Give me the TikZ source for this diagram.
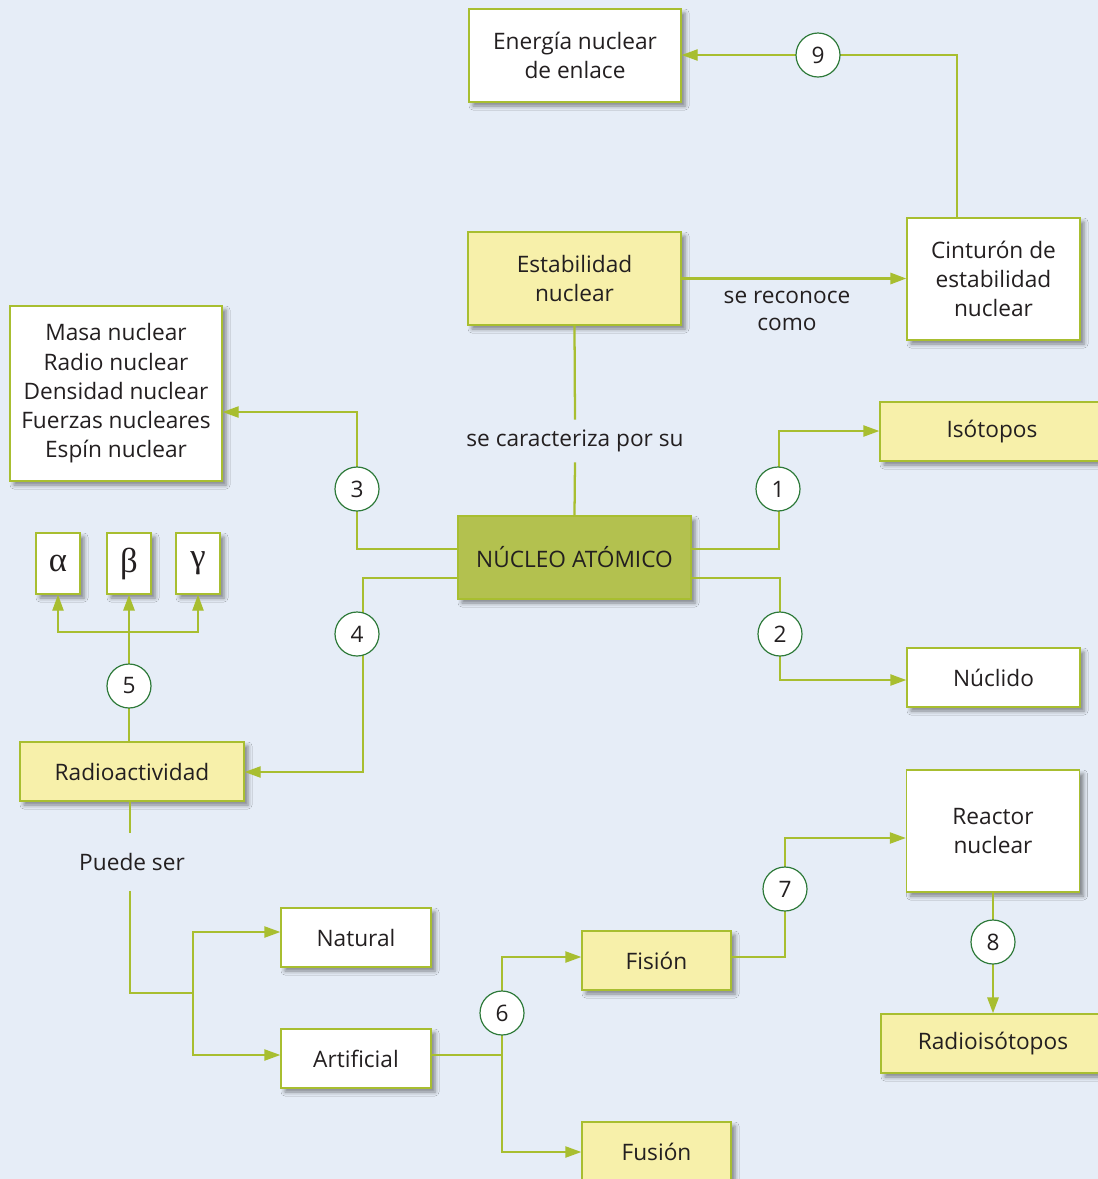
\documentclass[tikz,border=0pt]{standalone}
\usepackage{fontspec}
\setmainfont{Open Sans}
\newfontfamily\greekfont{Liberation Serif}
\usetikzlibrary{arrows.meta,shadows.blur}

\definecolor{bgblue}{HTML}{E6EDF7}
\definecolor{edge}{HTML}{A8BE30}
\definecolor{paleyellow}{HTML}{F7F0AA}
\definecolor{olive}{HTML}{B3C14F}
\definecolor{ringgreen}{HTML}{2E7A3A}
\definecolor{ink}{HTML}{231F20}

\def\pu{0.75pt}

\tikzset{
  box/.style={draw=edge, line width=1.1pt, align=center, inner sep=0pt,
    text=ink, font=\fontsize{17}{21.9}\selectfont,
    blur shadow={shadow xshift=3pt, shadow yshift=-3pt, shadow blur radius=3pt, shadow opacity=45}},
  wbox/.style={box, fill=white},
  ybox/.style={box, fill=paleyellow},
  gbox/.style={box, fill=olive},
  gkbox/.style={box, fill=white, font=\greekfont\fontsize{26}{27}\selectfont},
  num/.style={circle, draw=ringgreen, fill=white, line width=0.9pt,
    minimum size=33pt, inner sep=0pt, text=ink, font=\fontsize{17}{20}\selectfont},
  lbl/.style={fill=bgblue, text=ink, align=center, inner sep=0pt,
    font=\fontsize{17}{20}\selectfont},
  link/.style={draw=edge, line width=1.1pt, -{Triangle[length=12pt,width=8.5pt]}},
  plain/.style={draw=edge, line width=1.1pt},
  heavy/.style={line width=1.7pt},
}

\begin{document}
\begin{tikzpicture}[x=0.75pt,y=-0.75pt]
\useasboundingbox (0,0) rectangle (1098,1179);
\clip (0,0) rectangle (1098,1179);
\fill[bgblue] (0,0) rectangle (1098,1179);

% boxes
\node[wbox, minimum width=212*\pu, minimum height=93*\pu] (energia) at (575,55.5) {Energía nuclear\\de enlace};
\node[ybox, minimum width=213*\pu, minimum height=93*\pu] (estab) at (574.5,278.5) {Estabilidad\\nuclear};
\node[wbox, minimum width=173*\pu, minimum height=122*\pu] (cintu) at (993.5,279) {Cinturón de\\estabilidad\\nuclear};
\node[wbox, minimum width=212*\pu, minimum height=175*\pu] (masa) at (116,393.5) {Masa nuclear\\Radio nuclear\\Densidad nuclear\\Fuerzas nucleares\\Espín nuclear};
\node[ybox, minimum width=224*\pu, minimum height=59*\pu] (isot) at (992,431.5) {Isótopos};
\node[gbox, minimum width=233*\pu, minimum height=83*\pu] (nucleo) at (574.5,557.5) {NÚCLEO ATÓMICO};
\node[wbox, minimum width=173*\pu, minimum height=59*\pu] (nuclido) at (993.5,677.5) {Núclido};
\node[gkbox, minimum width=44*\pu, minimum height=61*\pu] (alpha) at (58,563.5) {α};
\node[gkbox, minimum width=44*\pu, minimum height=61*\pu] (beta) at (129,563.5) {β};
\node[gkbox, minimum width=44*\pu, minimum height=61*\pu] (gamma) at (198,563.5) {γ};
\node[ybox, minimum width=224*\pu, minimum height=59*\pu] (radio) at (132,771.5) {Radioactividad};
\node[wbox, minimum width=173*\pu, minimum height=122*\pu] (reactor) at (993,831) {Reactor\\nuclear};
\node[wbox, minimum width=150*\pu, minimum height=59*\pu] (natural) at (356,937.5) {Natural};
\node[ybox, minimum width=149*\pu, minimum height=59*\pu] (fision) at (656.5,960.5) {Fisión};
\node[wbox, minimum width=150*\pu, minimum height=59*\pu] (artificial) at (356,1058.5) {Artificial};
\node[ybox, minimum width=224*\pu, minimum height=59*\pu] (radioiso) at (993,1043.5) {Radioisótopos};
\node[ybox, minimum width=149*\pu, minimum height=59*\pu] (fusion) at (656.5,1151.5) {Fusión};

% link labels
\node[lbl, minimum height=42*\pu] (carac) at (575,441) {se caracteriza por su};
\node[lbl, minimum height=57*\pu] (puede) at (132,862) {Puede ser};
\node[text=ink, align=center, font=\fontsize{17}{20}\selectfont] (recon) at (787,311) {se reconoce\\como};

% bend points
\coordinate (t9) at (957,55);
\coordinate (j3) at (357,549);
\coordinate (t3) at (357,412);
\coordinate (j4) at (363,578);
\coordinate (t4) at (363,772);
\coordinate (j1) at (779,549);
\coordinate (t1) at (779,431);
\coordinate (j2) at (780,578);
\coordinate (t2) at (780,680);
\coordinate (j5) at (129,632);
\coordinate (pa) at (130,993);
\coordinate (pb) at (193,993);
\coordinate (pn) at (193,932);
\coordinate (pr) at (193,1055);
\coordinate (k6) at (502,1055);
\coordinate (f1) at (502,957);
\coordinate (f2) at (502,1152);
\coordinate (k7) at (785,957);
\coordinate (t7) at (785,838);

% connectors
\draw[link] (cintu.north -| t9) -- (t9) -- (energia.east |- t9);
\draw[link, heavy] (estab.east) -- (estab.east -| cintu.west);
\draw[plain, heavy] (estab.south) -- (carac.north);
\draw[plain, heavy] (carac.south) -- (nucleo.north);
\draw[link] (nucleo.west |- j3) -- (j3) -- (t3) -- (masa.east |- t3);
\draw[link] (nucleo.west |- j4) -- (j4) -- (t4) -- (radio.east |- t4);
\draw[link] (nucleo.east |- j1) -- (j1) -- (t1) -- (isot.west |- t1);
\draw[link] (nucleo.east |- j2) -- (j2) -- (t2) -- (nuclido.west |- t2);
\draw[link, heavy] (radio.north -| j5) -- (beta.south);
\draw[link] (j5) -| (alpha.south);
\draw[link] (j5) -| (gamma.south);
\draw[plain] (radio.south -| pa) -- (puede.north -| pa);
\draw[plain] (puede.south -| pa) -- (pa) -- (pb);
\draw[link] (pb) -- (pn) -- (natural.west |- pn);
\draw[link] (pb) -- (pr) -- (artificial.west |- pr);
\draw[plain] (artificial.east |- k6) -- (k6);
\draw[link] (k6) -- (f1) -- (fision.west |- f1);
\draw[link] (k6) -- (f2) -- (fusion.west |- f2);
\draw[link] (fision.east |- k7) -- (k7) -- (t7) -- (reactor.west |- t7);
\draw[link, heavy] (reactor.south) -- (radioiso.north);

% numbered markers
\node[num] (n1) at (778,489) {1};
\node[num] (n2) at (780,634) {2};
\node[num] (n3) at (357,489) {3};
\node[num] (n4) at (357,634) {4};
\node[num] (n5) at (129,686) {5};
\node[num] (n6) at (502,1013) {6};
\node[num] (n7) at (785,889) {7};
\node[num] (n8) at (993,942) {8};
\node[num] (n9) at (818,55) {9};
\end{tikzpicture}
\end{document}
